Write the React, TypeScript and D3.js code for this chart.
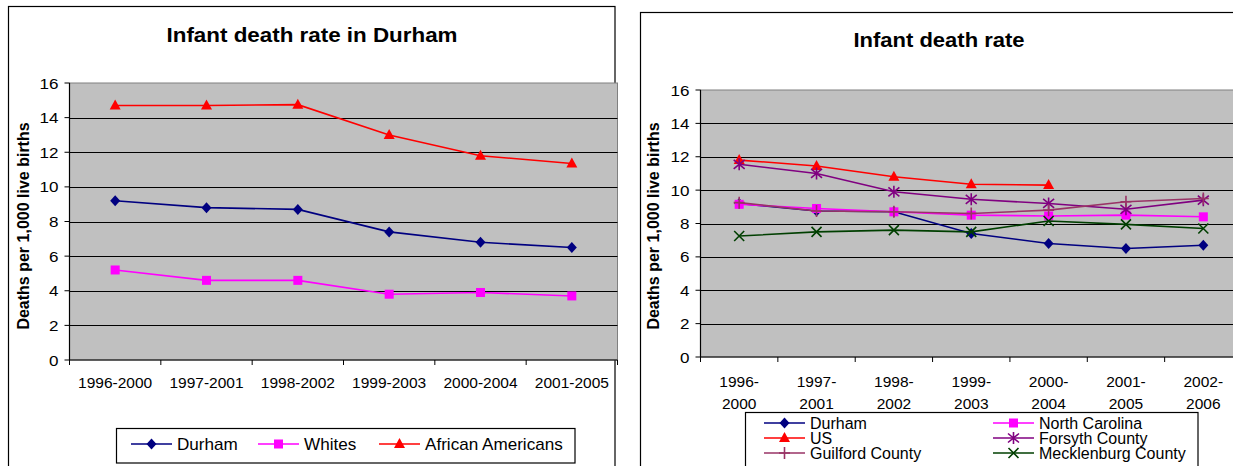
import React from "react";
import * as d3 from "d3";

const FONT = "'Liberation Sans', Arial, sans-serif";

// ---------- Data: left chart (Infant death rate in Durham) ----------
const durhamPeriods = ["1996-2000", "1997-2001", "1998-2002", "1999-2003", "2000-2004", "2001-2005"];
const durhamTotal = [9.2, 8.8, 8.7, 7.4, 6.8, 6.5];
const durhamWhites = [5.2, 4.6, 4.6, 3.8, 3.9, 3.7];
const durhamAfricanAmericans = [14.7, 14.7, 14.75, 13.0, 11.8, 11.35];

// ---------- Data: right chart (Infant death rate) ----------
const comparePeriods = ["1996-2000", "1997-2001", "1998-2002", "1999-2003", "2000-2004", "2001-2005", "2002-2006"];
const cmpDurham = [9.2, 8.75, 8.7, 7.4, 6.8, 6.5, 6.7];
const cmpNorthCarolina = [9.15, 8.9, 8.7, 8.5, 8.45, 8.5, 8.4];
const cmpUS: (number | null)[] = [11.8, 11.45, 10.8, 10.35, 10.3, null, null];
const cmpForsyth = [11.55, 11.0, 9.9, 9.45, 9.2, 8.85, 9.4];
const cmpGuilford = [9.25, 8.75, 8.7, 8.6, 8.8, 9.3, 9.5];
const cmpMecklenburg = [7.25, 7.5, 7.6, 7.5, 8.15, 7.95, 7.7];

const yTicks = [0, 2, 4, 6, 8, 10, 12, 14, 16];

type Series = { name: string; values: (number | null)[]; color: string; marker: string };

const leftSeries: Series[] = [
  { name: "Durham", values: durhamTotal, color: "#000080", marker: "diamond" },
  { name: "Whites", values: durhamWhites, color: "#FF00FF", marker: "square" },
  { name: "African Americans", values: durhamAfricanAmericans, color: "#FF0000", marker: "triangle" },
];

const rightSeries: Series[] = [
  { name: "Durham", values: cmpDurham, color: "#000080", marker: "diamond" },
  { name: "North Carolina", values: cmpNorthCarolina, color: "#FF00FF", marker: "square" },
  { name: "US", values: cmpUS, color: "#FF0000", marker: "triangle" },
  { name: "Forsyth County", values: cmpForsyth, color: "#800080", marker: "asterisk" },
  { name: "Guilford County", values: cmpGuilford, color: "#993366", marker: "plus" },
  { name: "Mecklenburg County", values: cmpMecklenburg, color: "#003F00", marker: "x" },
];

// Text with optional horizontal stretch (reference text is rendered slightly wide)
function T({
  x,
  y,
  sx = 1,
  anchor = "start",
  size,
  bold = false,
  children,
}: {
  x: number;
  y: number;
  sx?: number;
  anchor?: string;
  size: number;
  bold?: boolean;
  children: React.ReactNode;
}) {
  return (
    <g transform={`translate(${x},${y}) scale(${sx},1)`}>
      <text x={0} y={0} textAnchor={anchor as any} fontFamily={FONT} fontSize={size} fontWeight={bold ? "bold" : "normal"} fill="#000">
        {children}
      </text>
    </g>
  );
}

function Marker({ kind, x, y, color }: { kind: string; x: number; y: number; color: string }) {
  const t = `translate(${x},${y})`;
  if (kind === "diamond") return <path transform={t} d="M0,-5.5L5,0L0,5.5L-5,0Z" fill={color} />;
  if (kind === "square") return <rect x={x - 4.5} y={y - 4.5} width={9} height={9} fill={color} />;
  if (kind === "triangle") return <path transform={t} d="M0,-6L5.5,4L-5.5,4Z" fill={color} />;
  if (kind === "asterisk")
    return (
      <path transform={t} d="M0,-6V6M-5.5,-4.5L5.5,4.5M-5.5,4.5L5.5,-4.5" stroke={color} strokeWidth={1.6} fill="none" />
    );
  if (kind === "plus") return <path transform={t} d="M0,-6V6M-5.5,0H5.5" stroke={color} strokeWidth={1.6} fill="none" />;
  if (kind === "x") return <path transform={t} d="M-5,-5L5,5M-5,5L5,-5" stroke={color} strokeWidth={1.6} fill="none" />;
  return null;
}

type PlotProps = {
  categories: string[];
  series: Series[];
  left: number;
  right: number;
  top: number;
  bottom: number;
  twoLineLabels: boolean;
  labelY: number;
  yTitleX: number;
  yTitleY: number;
};

function Plot({ categories, series, left, right, top, bottom, twoLineLabels, labelY, yTitleX, yTitleY }: PlotProps) {
  const x = d3.scaleBand<string>().domain(categories).range([left, right]).paddingInner(0).paddingOuter(0);
  const y = d3.scaleLinear().domain([0, 16]).range([bottom, top]);
  const cx = (c: string) => (x(c) as number) + x.bandwidth() / 2;
  const bounds = categories.map((c) => x(c) as number).concat([right]);
  return (
    <g>
      <rect x={left} y={top} width={right - left} height={bottom - top} fill="#C0C0C0" stroke="#808080" strokeWidth={1} />
      {yTicks
        .filter((v) => v !== 0 && v !== 16)
        .map((v) => (
          <line key={v} x1={left} x2={right} y1={Math.round(y(v)) + 0.5} y2={Math.round(y(v)) + 0.5} stroke="#000" strokeWidth={1} />
        ))}
      <line x1={left} x2={left} y1={top} y2={bottom} stroke="#000" strokeWidth={1.2} />
      <line x1={left} x2={right} y1={bottom} y2={bottom} stroke="#000" strokeWidth={1.2} />
      {yTicks.map((v) => (
        <g key={v}>
          <line x1={left - 5} x2={left} y1={y(v)} y2={y(v)} stroke="#000" strokeWidth={1} />
          <T x={left - 11} y={y(v) + 5.5} anchor="end" size={15.5} sx={1.1}>
            {v}
          </T>
        </g>
      ))}
      {bounds.map((b, i) => (
        <line key={i} x1={b} x2={b} y1={bottom} y2={bottom + 5} stroke="#000" strokeWidth={1} />
      ))}
      {categories.map((c) =>
        twoLineLabels ? (
          <g key={c}>
            <T x={cx(c)} y={labelY} anchor="middle" size={15.5}>
              {c.split("-")[0] + "-"}
            </T>
            <T x={cx(c)} y={labelY + 22} anchor="middle" size={15.5}>
              {c.split("-")[1]}
            </T>
          </g>
        ) : (
          <T key={c} x={cx(c)} y={labelY} anchor="middle" size={15.5}>
            {c}
          </T>
        )
      )}
      <text
        transform={`translate(${yTitleX},${yTitleY}) rotate(-90)`}
        textAnchor="middle"
        fontFamily={FONT}
        fontWeight="bold"
        fontSize={16}
        fill="#000"
      >
        Deaths per 1,000 live births
      </text>
      {series.map((s) => {
        const line = d3
          .line<number | null>()
          .defined((v) => v != null)
          .x((_, i) => cx(categories[i]))
          .y((v) => y(v as number));
        return (
          <g key={s.name}>
            <path d={line(s.values) || ""} fill="none" stroke={s.color} strokeWidth={1.6} />
            {s.values.map((v, i) =>
              v == null ? null : <Marker key={i} kind={s.marker} x={cx(categories[i])} y={y(v)} color={s.color} />
            )}
          </g>
        );
      })}
    </g>
  );
}

function LegendItem({ s, x, y, sx }: { s: Series; x: number; y: number; sx: number }) {
  return (
    <g>
      <line x1={x} x2={x + 41} y1={y} y2={y} stroke={s.color} strokeWidth={1.6} />
      <Marker kind={s.marker} x={x + 20.5} y={y} color={s.color} />
      <T x={x + 46} y={y + 6} size={16} sx={sx}>
        {s.name}
      </T>
    </g>
  );
}

export default function App() {
  const leftLegendX = [131, 258, 379];
  const rightLegendCols = [764, 993];
  const rightLegendRows = [423, 438, 453];
  return (
    <svg
      width={1233}
      height={466}
      style={{ position: "absolute", left: 0, top: 0, background: "#fff" }}
      xmlns="http://www.w3.org/2000/svg"
    >
      <rect x={0} y={0} width={1233} height={466} fill="#fff" />
      {/* Left chart */}
      <rect x={8.5} y={6.5} width={606.5} height={470} fill="#fff" stroke="#000" strokeWidth={1.2} />
      <T x={312} y={42} anchor="middle" size={20} bold sx={1.12}>
        Infant death rate in Durham
      </T>
      <Plot
        categories={durhamPeriods}
        series={leftSeries}
        left={69.5}
        right={617.5}
        top={83}
        bottom={360}
        twoLineLabels={false}
        labelY={388}
        yTitleX={29}
        yTitleY={226}
      />
      <rect x={116.5} y={428.5} width={458.5} height={34.5} fill="#fff" stroke="#000" strokeWidth={1.2} />
      {leftSeries.map((s, i) => (
        <LegendItem key={s.name} s={s} x={leftLegendX[i]} y={444} sx={1.07} />
      ))}

      {/* Right chart */}
      <rect x={640.5} y={12.5} width={620} height={470} fill="#fff" stroke="#000" strokeWidth={1.2} />
      <T x={939} y={47} anchor="middle" size={20} bold sx={1.1}>
        Infant death rate
      </T>
      <Plot
        categories={comparePeriods}
        series={rightSeries}
        left={700.5}
        right={1242}
        top={90}
        bottom={357}
        twoLineLabels={true}
        labelY={387}
        yTitleX={659}
        yTitleY={226}
      />
      <rect x={745.5} y={412.5} width={452.5} height={70} fill="#fff" stroke="#000" strokeWidth={1.2} />
      {rightSeries.map((s, i) => (
        <LegendItem key={s.name} s={s} x={rightLegendCols[i % 2]} y={rightLegendRows[Math.floor(i / 2)]} sx={1} />
      ))}
    </svg>
  );
}
